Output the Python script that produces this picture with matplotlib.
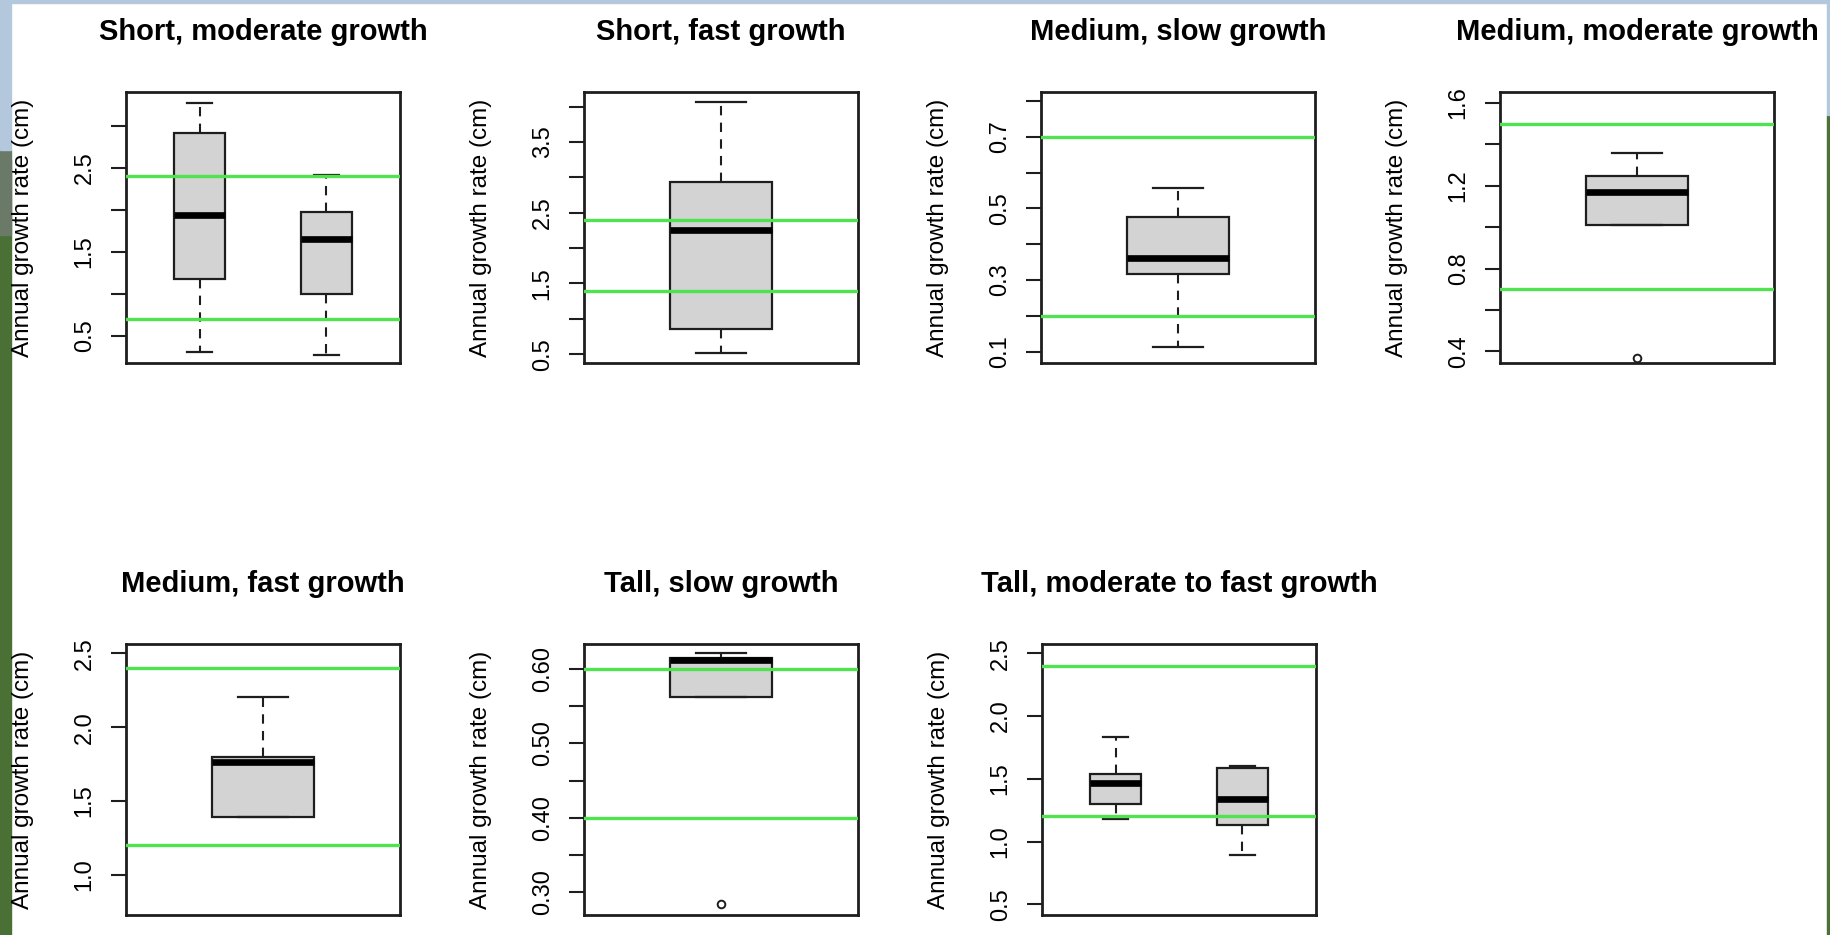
import matplotlib
matplotlib.use("Agg")
import matplotlib.pyplot as plt
from matplotlib.patches import Rectangle

plt.rcParams['font.family'] = ['Liberation Sans', 'DejaVu Sans']

titles = ["Short, moderate growth", "Short, fast growth", "Medium, slow growth",
          "Medium, moderate growth", "Medium, fast growth", "Tall, slow growth",
          "Tall, moderate to fast growth"]

# box statistics: one inner list per panel, one value per box
whis_lo = [[0.31, 0.27], [0.52], [0.114], [1.01], [1.39], [0.563], [1.177, 0.893]]
q1 = [[1.18, 1.00], [0.855], [0.316], [1.01], [1.39], [0.563], [1.297, 1.132]]
med = [[1.945, 1.655], [2.26], [0.361], [1.171], [1.764], [0.6126], [1.469, 1.337]]
q3 = [[2.92, 1.98], [2.935], [0.475], [1.247], [1.798], [0.6149], [1.536, 1.588]]
whis_hi = [[3.28, 2.42], [4.065], [0.558], [1.356], [2.206], [0.6216], [1.831, 1.602]]
outliers = [[[], []], [[]], [[]], [[0.368]], [[]], [[0.284]], [[], []]]

# reference lines (green)
green_lines = [[0.7, 2.4], [1.4, 2.4], [0.2, 0.7], [0.7, 1.5],
               [1.2, 2.4], [0.4, 0.6], [1.2, 2.4]]

y_limits = [(0.176, 3.406), (0.376, 4.206), (0.068, 0.825), (0.344, 1.653),
            (0.728, 2.563), (0.269, 0.634), (0.415, 2.574)]

y_ticks = [[0.5, 1.0, 1.5, 2.0, 2.5, 3.0],
           [0.5, 1.0, 1.5, 2.0, 2.5, 3.0, 3.5, 4.0],
           [0.1, 0.2, 0.3, 0.4, 0.5, 0.6, 0.7, 0.8],
           [0.4, 0.6, 0.8, 1.0, 1.2, 1.4, 1.6],
           [1.0, 1.5, 2.0, 2.5],
           [0.30, 0.35, 0.40, 0.45, 0.50, 0.55, 0.60],
           [0.5, 1.0, 1.5, 2.0, 2.5]]
y_ticklabels = [["0.5", "", "1.5", "", "2.5", ""],
                ["0.5", "", "1.5", "", "2.5", "", "3.5", ""],
                ["0.1", "", "0.3", "", "0.5", "", "0.7", ""],
                ["0.4", "", "0.8", "", "1.2", "", "1.6"],
                ["1.0", "1.5", "2.0", "2.5"],
                ["0.30", "", "0.40", "", "0.50", "", "0.60"],
                ["0.5", "1.0", "1.5", "2.0", "2.5"]]

ylab = "Annual growth rate (cm)"

W, H = 1831, 935
fig = plt.figure(figsize=(W / 100, H / 100), dpi=100, facecolor="white")

# slide background showing around the plot area
bg = [((0, 0), 11, 775, "#4a7036"), ((0, 700), 11, 85, "#6b7a68"),
      ((0, 785), 11, 150, "#b3c7dd"),
      ((1827, 0), 4, 820, "#4d7038"), ((1827, 820), 4, 115, "#b3c7dd"),
      ((0, 932), W, 3, "#b3c7dd")]
for xy, w, h, c in bg:
    fig.add_artist(Rectangle((xy[0] / W, xy[1] / H), w / W, h / H,
                             transform=fig.transFigure, color=c, zorder=0))

lefts = [126, 584, 1041, 1500]
tops = [92, 644]
aw, ah = 274, 271
dark = "#1e1e1e"

for i, title in enumerate(titles):
    row, col = divmod(i, 4)
    left = lefts[col] + (1 if i == 6 else 0)
    top = tops[row]
    ax = fig.add_axes([left / W, 1 - (top + ah) / H, aw / W, ah / H])

    n = len(med[i])
    stats = []
    for k in range(n):
        stats.append(dict(whislo=whis_lo[i][k], q1=q1[i][k], med=med[i][k],
                          q3=q3[i][k], whishi=whis_hi[i][k], fliers=outliers[i][k]))
    ax.bxp(stats, positions=list(range(1, n + 1)), widths=0.4, capwidths=0.2,
           patch_artist=True,
           boxprops=dict(facecolor="#d3d3d3", edgecolor=dark, linewidth=1.6),
           whiskerprops=dict(color=dark, linewidth=1.5, linestyle=(0, (4.5, 3.5))),
           capprops=dict(color=dark, linewidth=1.6),
           medianprops=dict(color="black", linewidth=4.8, solid_capstyle="butt"),
           flierprops=dict(marker="o", markersize=5.5, markerfacecolor="none",
                           markeredgecolor=dark, markeredgewidth=1.4))

    for g in green_lines[i]:
        ax.axhline(g, color="#4fe34f", linewidth=2.4, zorder=5)

    ax.set_xlim(0.5 - 0.04 * n, n + 0.5 + 0.04 * n)
    ax.set_ylim(*y_limits[i])
    ax.set_xticks([])
    ax.set_yticks(y_ticks[i])
    ax.set_yticklabels(y_ticklabels[i], rotation=90, va="center")
    ax.tick_params(axis="y", length=10.8, width=1.5, pad=11, labelsize=17,
                   color=dark)
    for sp in ax.spines.values():
        sp.set_linewidth(2.0)
        sp.set_color(dark)

    ax.set_title(title, fontsize=21, fontweight="bold", pad=37.5)
    ax.set_ylabel(ylab, fontsize=17.5, va="center")
    ax.yaxis.set_label_coords((23 - 126) / aw, 0.5)

fig.savefig("out.png", dpi=100, facecolor=fig.get_facecolor())
